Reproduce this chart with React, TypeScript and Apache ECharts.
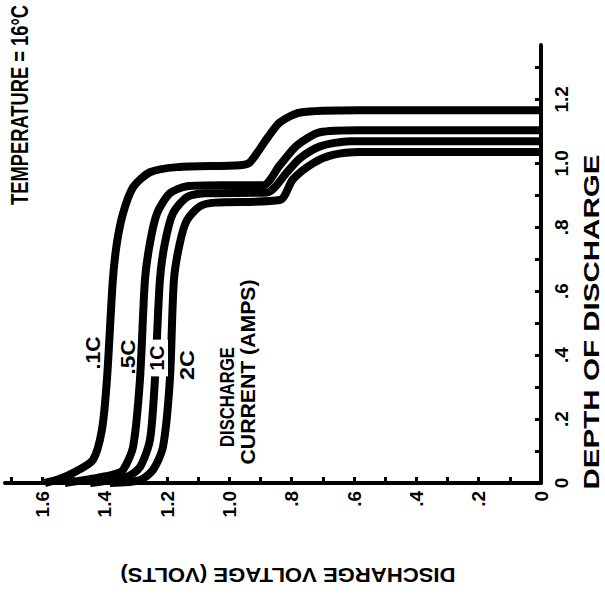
import React, { useEffect, useRef } from "react";
import * as echarts from "echarts";

// Voltage axis (horizontal, inverted) and depth axis (vertical, right)
const voltageTicks = [0, 0.1, 0.2, 0.3, 0.4, 0.5, 0.6, 0.7, 0.8, 0.9, 1.0, 1.1, 1.2, 1.3, 1.4, 1.5, 1.6, 1.7];
const voltageLabelValues = [0, 0.2, 0.4, 0.6, 0.8, 1.0, 1.2, 1.4, 1.6];
const voltageLabels = ["0", ".2", ".4", ".6", ".8", "1.0", "1.2", "1.4", "1.6"];
const depthTicks = [0, 0.1, 0.2, 0.3, 0.4, 0.5, 0.6, 0.7, 0.8, 0.9, 1.0, 1.1, 1.2, 1.3];
const depthLabelValues = [0, 0.2, 0.4, 0.6, 0.8, 1.0, 1.2];
const depthLabels = ["0", ".2", ".4", ".6", ".8", "1.0", "1.2"];

// [voltage, depth of discharge]
const curve01C = [
  [1.592, 0], [1.544, 0.013], [1.502, 0.031], [1.438, 0.072], [1.409, 0.166], [1.393, 0.322],
  [1.374, 0.634], [1.361, 0.75], [1.341, 0.844], [1.309, 0.925], [1.255, 0.972], [1.168, 0.988],
  [0.966, 0.994], [0.934, 1.003], [0.879, 1.078], [0.838, 1.128], [0.773, 1.159], [0.581, 1.166],
  [0, 1.166],
];
const curve05C = [
  [1.528, 0], [1.425, 0.016], [1.367, 0.028], [1.341, 0.041], [1.309, 0.113], [1.287, 0.322],
  [1.271, 0.634], [1.255, 0.75], [1.232, 0.844], [1.191, 0.906], [1.136, 0.928], [1.021, 0.931],
  [0.892, 0.931], [0.838, 0.994], [0.783, 1.056], [0.709, 1.097], [0.581, 1.103], [0, 1.103],
];
const curve1C = [
  [1.447, 0], [1.329, 0.019], [1.287, 0.05], [1.255, 0.134], [1.239, 0.322], [1.223, 0.634],
  [1.207, 0.75], [1.181, 0.844], [1.136, 0.894], [1.078, 0.906], [0.879, 0.909], [0.815, 0.972],
  [0.773, 1.016], [0.709, 1.053], [0.613, 1.069], [0, 1.069],
];
const curve2C = [
  [1.383, 0], [1.287, 0.009], [1.245, 0.041], [1.213, 0.113], [1.191, 0.322], [1.178, 0.634],
  [1.159, 0.75], [1.136, 0.822], [1.094, 0.866], [1.046, 0.877], [0.838, 0.885], [0.796, 0.95],
  [0.732, 1.0], [0.668, 1.026], [0.581, 1.035], [0, 1.035],
];
const seriesNames = [".1C", ".5C", "1C", "2C"];

const FONT = "'Liberation Sans', Arial, Helvetica, sans-serif";

function fmt(values: number[], labels: string[]) {
  return (v: number) => {
    const i = values.findIndex((x) => Math.abs(x - v) < 1e-6);
    return i >= 0 ? labels[i] : "";
  };
}

let ctx: CanvasRenderingContext2D | null = null;
function measure(text: string, font: string) {
  if (!ctx) ctx = document.createElement("canvas").getContext("2d");
  if (!ctx) return 0;
  ctx.font = font;
  return ctx.measureText(text).width;
}

function txt(text: string, x: number, y: number, rot: number, size: number, len: number, extra: any = {}) {
  const font = `bold ${size}px ${FONT}`;
  const w = measure(text, font);
  const sx = w > 0 ? len / w : 1;
  return {
    type: "text",
    x,
    y,
    rotation: rot,
    scaleX: sx,
    style: {
      text,
      fill: "#000",
      font,
      align: "center",
      verticalAlign: "middle",
      ...extra,
    },
    z: 100,
  };
}

export default function App() {
  const ref = useRef<HTMLDivElement>(null);
  useEffect(() => {
    if (!ref.current) return;
    const chart = echarts.init(ref.current, null, { renderer: "svg" });
    const lineCommon = {
      type: "line",
      showSymbol: false,
      smooth: 0.25,
      lineStyle: { color: "#000", width: 8 },
      z: 5,
    };
    const axisLineStyle = { color: "#000", width: 4 };
    const labelStyle = { color: "#000", fontWeight: "bold", fontSize: 19, fontFamily: FONT };
    chart.setOption({
      animation: false,
      backgroundColor: "#fff",
      grid: { left: 5, right: 64, top: 45, bottom: 111 },
      xAxis: {
        type: "value",
        inverse: true,
        min: 0,
        max: 1.72,
        position: "bottom",
        splitLine: { show: false },
        axisLine: { show: true, lineStyle: axisLineStyle },
        axisTick: { show: true, inside: true, length: 6, customValues: voltageTicks, lineStyle: { color: "#000", width: 3 } },
        axisLabel: {
          customValues: voltageLabelValues,
          formatter: fmt(voltageLabelValues, voltageLabels),
          rotate: 90,
          margin: 8,
          ...labelStyle,
        },
      },
      yAxis: {
        type: "value",
        position: "right",
        min: 0,
        max: 1.37,
        splitLine: { show: false },
        axisLine: { show: true, lineStyle: axisLineStyle },
        axisTick: { show: true, inside: true, length: 6, customValues: depthTicks, lineStyle: { color: "#000", width: 3 } },
        axisLabel: {
          customValues: depthLabelValues,
          formatter: fmt(depthLabelValues, depthLabels),
          rotate: 90,
          margin: 11,
          ...labelStyle,
        },
      },
      series: [
        { ...lineCommon, name: seriesNames[0], data: curve01C },
        { ...lineCommon, name: seriesNames[1], data: curve05C },
        { ...lineCommon, name: seriesNames[2], data: curve1C },
        { ...lineCommon, name: seriesNames[3], data: curve2C },
      ],
      graphic: [
        txt("TEMPERATURE = 16°C", 20, 105, Math.PI / 2, 24, 200),
        txt("DEPTH OF DISCHARGE", 591, 322, Math.PI / 2, 22, 335),
        txt("DISCHARGE VOLTAGE (VOLTS)", 288, 575, Math.PI, 21, 335),
        txt(seriesNames[0], 93, 353, Math.PI / 2, 20, 33),
        txt(seriesNames[1], 128, 357, Math.PI / 2, 20, 35),
        txt(seriesNames[2], 157, 358, Math.PI / 2, 20, 25, { backgroundColor: "#fff", padding: [1, 6] }),
        txt(seriesNames[3], 187, 365, Math.PI / 2, 20, 30),
        txt("DISCHARGE", 227, 397, Math.PI / 2, 20, 100),
        txt("CURRENT (AMPS)", 248, 372, Math.PI / 2, 20, 185),
      ],
    });
    return () => chart.dispose();
  }, []);
  return (
    <div
      ref={ref}
      style={{ position: "fixed", left: 0, top: 0, width: 605, height: 594, background: "#fff" }}
    />
  );
}
